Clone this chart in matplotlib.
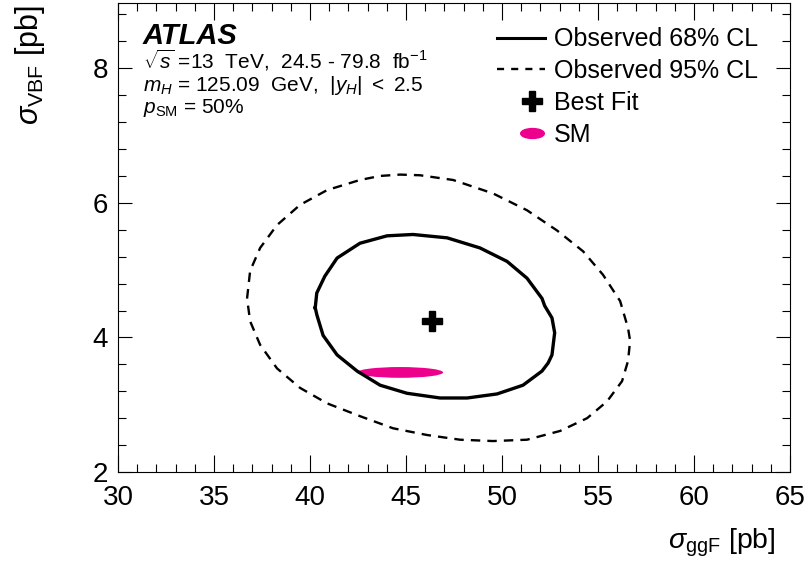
import numpy as np
import matplotlib
matplotlib.use("Agg")
import matplotlib.pyplot as plt
from matplotlib.patches import Ellipse
from matplotlib.lines import Line2D
from matplotlib.path import Path
from matplotlib.transforms import Affine2D
from matplotlib.ticker import MultipleLocator
from matplotlib.legend_handler import HandlerLine2D

plt.rcParams['font.family'] = ['Liberation Sans', 'DejaVu Sans']
plt.rcParams['mathtext.fontset'] = 'custom'
plt.rcParams['mathtext.rm'] = 'Liberation Sans'
plt.rcParams['mathtext.it'] = 'Liberation Sans:italic'
plt.rcParams['mathtext.bf'] = 'Liberation Sans:bold'

# Observed 68% CL contour (sigma_ggF, sigma_VBF) in pb
obs68_x = [40.27, 40.35, 40.77, 41.41, 42.60, 44.01, 45.36, 47.14, 48.85, 50.26,
           51.30, 52.08, 52.22, 52.60, 52.74, 52.60, 52.40, 52.08, 51.09, 49.74,
           48.18, 46.77, 45.05, 43.65, 42.45, 41.41, 40.68, 40.36]
obs68_y = [4.44, 4.66, 4.91, 5.18, 5.40, 5.51, 5.53, 5.48, 5.33, 5.13,
           4.88, 4.58, 4.47, 4.29, 4.07, 3.74, 3.62, 3.50, 3.29, 3.16,
           3.10, 3.10, 3.17, 3.29, 3.50, 3.74, 4.03, 4.33]

# Observed 95% CL contour
obs95_x = [36.72, 36.88, 37.40, 38.28, 39.48, 40.89, 42.60, 43.65, 44.69, 45.73,
           47.45, 49.53, 51.30, 52.86, 54.22, 55.26, 56.15, 56.56, 56.67, 56.56,
           56.25, 55.47, 54.43, 53.02, 51.30, 49.53, 47.81, 46.09, 44.32, 42.60,
           40.89, 39.48, 38.28, 37.40, 36.88]
obs95_y = [4.58, 4.99, 5.33, 5.67, 5.97, 6.19, 6.34, 6.40, 6.42, 6.41,
           6.34, 6.14, 5.89, 5.59, 5.28, 4.93, 4.54, 4.14, 3.95, 3.65,
           3.35, 3.05, 2.80, 2.61, 2.48, 2.46, 2.48, 2.55, 2.65, 2.83,
           3.02, 3.25, 3.54, 3.89, 4.24]

# best fit point
best_x = 46.35
best_y = 4.24

# SM prediction with its uncertainties
sm_x = 44.69
sm_y = 3.48
sm_x_err = 2.24
sm_y_err = 0.08

magenta = '#EC008C'


class ShiftedMarker(HandlerLine2D):
    # ROOT-style legend: marker sits towards the right of the handle box
    def create_artists(self, legend, orig_handle, xdescent, ydescent,
                       width, height, fontsize, trans):
        arts = super().create_artists(legend, orig_handle, xdescent, ydescent,
                                      width, height, fontsize, trans)
        for a in arts:
            a.set_xdata(np.asarray(a.get_xdata()) + 0.23 * width)
        return arts


fig = plt.figure(figsize=(8.09, 5.68), dpi=100)
ax = fig.add_axes([0.1459, 0.1690, 0.8307, 0.8257])

ax.plot(np.append(obs95_x, obs95_x[0]), np.append(obs95_y, obs95_y[0]),
        color='k', lw=1.7, ls=(0, (4, 3)), dash_joinstyle='round')
ax.plot(np.append(obs68_x, obs68_x[0]), np.append(obs68_y, obs68_y[0]),
        color='k', lw=2.4, solid_joinstyle='round')
ax.add_patch(Ellipse((sm_x, sm_y), 2 * sm_x_err, 2 * sm_y_err,
                     facecolor=magenta, edgecolor='none'))
ax.plot(best_x, best_y, marker='P', ms=14, color='k', ls='none')

ax.set_xlim(30, 65)
ax.set_ylim(2, 8.97)
ax.xaxis.set_major_locator(MultipleLocator(5))
ax.xaxis.set_minor_locator(MultipleLocator(1))
ax.yaxis.set_major_locator(MultipleLocator(2))
ax.yaxis.set_minor_locator(MultipleLocator(0.4))
ax.tick_params(which='both', direction='in', top=True, right=True,
               labelsize=20, width=0.8)
ax.tick_params(axis='x', which='major', length=12, pad=9)
ax.tick_params(axis='y', which='major', length=10, pad=7)
ax.tick_params(which='minor', length=6)
for s in ax.spines.values():
    s.set_linewidth(0.8)

ax.set_xlabel(r'$\sigma_{\mathrm{ggF}}$ [pb]', fontsize=20.5, ha='right', va='center')
ax.xaxis.set_label_coords(0.978, -0.151)
ax.set_ylabel(r'$\sigma_{\mathrm{VBF}}$ [pb]', fontsize=22, ha='right', va='center')
ax.yaxis.set_label_coords(-0.131, 0.995)

# ATLAS label block
ax.text(0.037, 0.9126, 'ATLAS', transform=ax.transAxes, fontsize=21,
        fontweight='bold', fontstyle='italic', va='baseline')
ax.text(0.037, 0.8614, r'$\sqrt{s}$ =13  TeV,  24.5 - 79.8  fb$^{-1}$',
        transform=ax.transAxes, fontsize=15, va='baseline')
ax.text(0.037, 0.8124, r'$m_{H}$ = 125.09  GeV,  $|y_{H}|\ <\ 2.5$',
        transform=ax.transAxes, fontsize=15, va='baseline')
ax.text(0.037, 0.7655, r'$p_{\mathrm{SM}}$ = 50%',
        transform=ax.transAxes, fontsize=15, va='baseline')

# legend
sm_marker = Affine2D().scale(1, 0.42).transform_path(Path.unit_circle())
handles = [
    Line2D([], [], color='k', lw=2.2),
    Line2D([], [], color='k', lw=1.7, ls=(0, (3, 3))),
    Line2D([], [], color='k', marker='P', ms=14, ls='none'),
    Line2D([], [], color=magenta, marker=sm_marker, ms=17, ls='none'),
]
labels = ['Observed 68% CL', 'Observed 95% CL', 'Best Fit', 'SM']
ax.legend(handles, labels, loc='upper left', bbox_to_anchor=(0.564, 0.948),
          frameon=False, fontsize=18, borderpad=0, borderaxespad=0,
          handlelength=1.92, handletextpad=0.36, labelspacing=0.31,
          handler_map={handles[2]: ShiftedMarker(), handles[3]: ShiftedMarker()})

fig.savefig('out.png', dpi=100)
